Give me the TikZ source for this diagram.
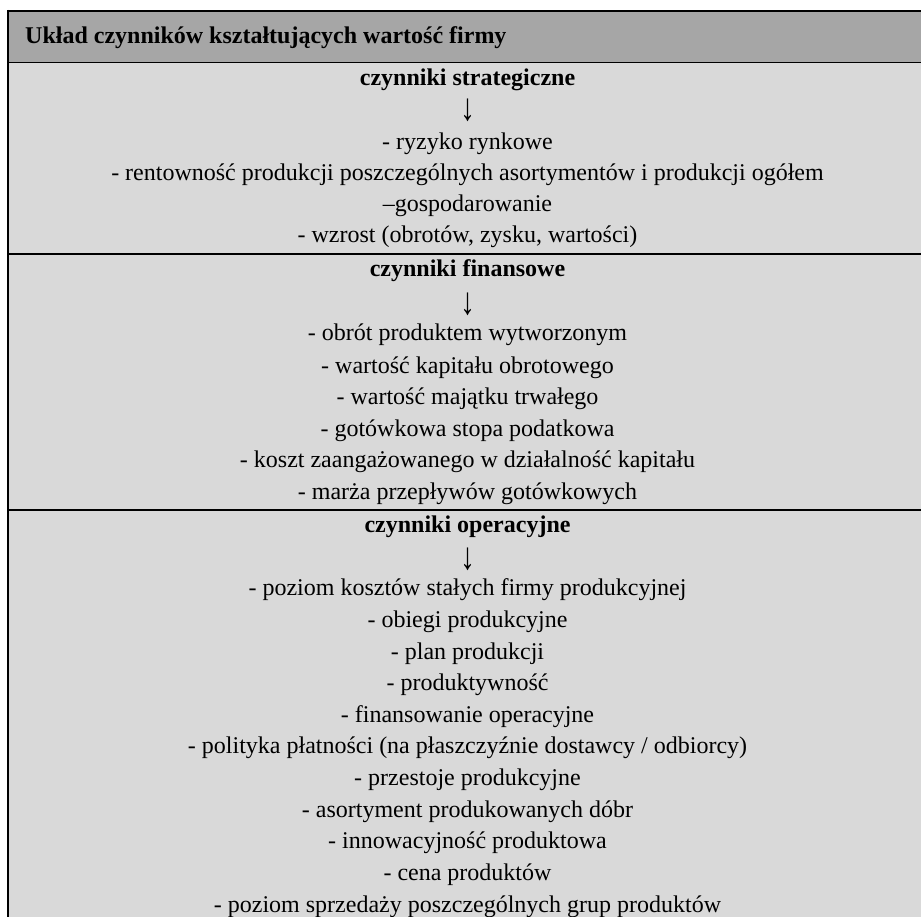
\documentclass[tikz,border=0pt]{standalone}
\usepackage{fontspec}
\setmainfont{Liberation Serif}
\definecolor{headgray}{HTML}{A6A6A6}
\definecolor{bodygray}{HTML}{D9D9D9}
\begin{document}
\begin{tikzpicture}[x=1pt,y=-1pt,
  rule/.style={line width=1.8pt,black},
  item/.style={anchor=base,inner sep=0pt,font=\fontsize{24}{31.7}\selectfont},
  title/.style={item,font=\fontsize{24}{31.7}\selectfont\bfseries},
  downarrow/.style={anchor=center,inner sep=0pt,font=\fontsize{24}{31.7}\selectfont},
  headtxt/.style={anchor=base west,inner sep=0pt,font=\fontsize{24}{31.7}\selectfont\bfseries}]
\useasboundingbox (0,0) rectangle (921,917);
% fills
\fill[headgray] (8.2,10.8) rectangle (921,62.5);
\fill[bodygray] (8.2,62.5) rectangle (921,917);
% rules
\draw[rule] (7.3,10.8) -- (921,10.8);
\draw[rule] (8.2,10) -- (8.2,917);
\draw[rule] (8.2,62.5) -- (921,62.5);
\draw[rule] (8.2,254) -- (921,254);
\draw[rule] (8.2,509.7) -- (921,509.7);
% header
\node[headtxt] (head) at (25,43.3) {Układ czynników kształtujących wartość firmy};
\def\cx{467.5}
\def\arr{\scalebox{1.25}[1.6]{↓}}
% strategic
\node[title] (s0) at (\cx,86) {czynniki strategiczne};
\node[downarrow] (sa) at (\cx,110) {\arr};
\node[item] (s1) at (\cx,149.5) {- ryzyko rynkowe};
\node[item] (s2) at (\cx,181) {- rentowność produkcji poszczególnych asortymentów i produkcji ogółem};
\node[item] (s3) at (\cx,212) {–gospodarowanie};
\node[item] (s4) at (\cx,243) {- wzrost (obrotów, zysku, wartości)};
% financial
\node[title] (f0) at (\cx,277) {czynniki finansowe};
\node[downarrow] (fa) at (\cx,304) {\arr};
\node[item] (f1) at (\cx,341) {- obrót produktem wytworzonym};
\node[item] (f2) at (\cx,373) {- wartość kapitału obrotowego};
\node[item] (f3) at (\cx,404) {- wartość majątku trwałego};
\node[item] (f4) at (\cx,436) {- gotówkowa stopa podatkowa};
\node[item] (f5) at (\cx,467.5) {- koszt zaangażowanego w działalność kapitału};
\node[item] (f6) at (\cx,499) {- marża przepływów gotówkowych};
% operational
\node[title] (o0) at (\cx,532) {czynniki operacyjne};
\node[downarrow] (oa) at (\cx,559) {\arr};
\node[item] (o1) at (\cx,595.5) {- poziom kosztów stałych firmy produkcyjnej};
\node[item] (o2) at (\cx,627) {- obiegi produkcyjne};
\node[item] (o3) at (\cx,659) {- plan produkcji};
\node[item] (o4) at (\cx,690.5) {- produktywność};
\node[item] (o5) at (\cx,722) {- finansowanie operacyjne};
\node[item] (o6) at (\cx,753.5) {- polityka płatności (na płaszczyźnie dostawcy / odbiorcy)};
\node[item] (o7) at (\cx,785) {- przestoje produkcyjne};
\node[item] (o8) at (\cx,817) {- asortyment produkowanych dóbr};
\node[item] (o9) at (\cx,848.5) {- innowacyjność produktowa};
\node[item] (o10) at (\cx,880) {- cena produktów};
\node[item] (o11) at (\cx,912) {- poziom sprzedaży poszczególnych grup produktów};
\end{tikzpicture}
\end{document}
